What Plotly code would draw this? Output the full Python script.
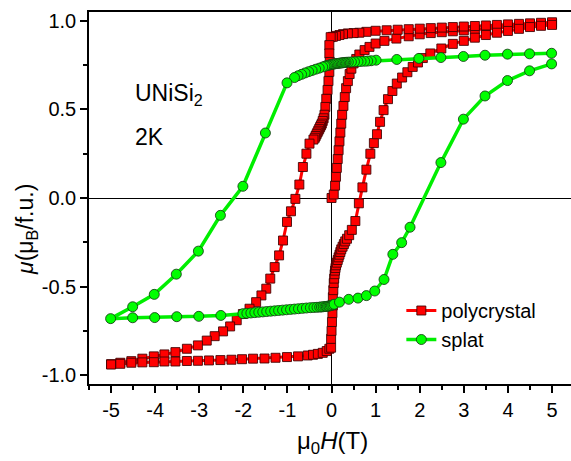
import plotly.graph_objects as go

# ---------------- data ----------------
# polycrystal: virgin curve 0 -> 5 T
poly_virgin_x = [0.0, 0.05, 0.08, 0.10, 0.12, 0.14, 0.16, 0.18, 0.20, 0.22,
                 0.24, 0.27, 0.30, 0.33, 0.37, 0.41, 0.45, 0.50, 0.56, 0.63,
                 0.75, 0.86, 1.00, 1.20, 1.47, 1.75, 2.00, 2.25, 2.50, 2.75,
                 3.00, 3.25, 3.50, 3.75, 4.00, 4.25, 4.50, 4.75, 5.00]
poly_virgin_y = [0.00, 0.02, 0.07, 0.12, 0.17, 0.22, 0.27, 0.32, 0.37, 0.42,
                 0.47, 0.52, 0.57, 0.62, 0.66, 0.70, 0.73, 0.76, 0.785, 0.81,
                 0.835, 0.853, 0.872, 0.887, 0.90, 0.913, 0.924, 0.931, 0.936, 0.941,
                 0.946, 0.951, 0.956, 0.961, 0.966, 0.970, 0.975, 0.979, 0.983]
# polycrystal: descending branch 5 -> -5 T
poly_down_x = [5.00, 4.75, 4.50, 4.25, 4.00, 3.75, 3.50, 3.25, 3.00, 2.75,
               2.50, 2.25, 2.00, 1.75, 1.50, 1.25, 1.00, 0.79, 0.63, 0.50,
               0.37, 0.26, 0.18, 0.10, 0.03, -0.02, -0.05, -0.05, -0.04, -0.05,
               -0.07, -0.09, -0.12, -0.14, -0.16, -0.18, -0.20, -0.22, -0.24, -0.26,
               -0.28, -0.30, -0.32, -0.34, -0.36, -0.38, -0.41, -0.50, -0.57, -0.65,
               -0.73, -0.82, -0.92, -1.01, -1.10, -1.19, -1.29, -1.39, -1.48, -1.59,
               -1.71, -1.86, -2.01, -2.15, -2.30, -2.46, -2.65, -2.83, -3.03, -3.28,
               -3.54, -3.79, -4.03, -4.29, -4.54, -4.79, -5.00]
poly_down_y = [0.992, 0.989, 0.986, 0.983, 0.980, 0.977, 0.974, 0.971, 0.968, 0.965,
               0.962, 0.959, 0.956, 0.953, 0.950, 0.947, 0.944, 0.938, 0.933, 0.931,
               0.929, 0.925, 0.920, 0.915, 0.910, 0.908, 0.863, 0.816, 0.768, 0.712,
               0.66, 0.61, 0.56, 0.514, 0.47, 0.45, 0.435, 0.42, 0.41, 0.40,
               0.39, 0.38, 0.37, 0.36, 0.35, 0.34, 0.33, 0.307, 0.25, 0.175,
               0.076, -0.005, -0.075, -0.135, -0.24, -0.324, -0.39, -0.455, -0.512, -0.55,
               -0.588, -0.625, -0.655, -0.69, -0.725, -0.753, -0.78, -0.805, -0.832, -0.851,
               -0.87, -0.883, -0.894, -0.907, -0.921, -0.93, -0.938]
# polycrystal: ascending branch -5 -> 5 T
poly_up_x = [-5.00, -4.79, -4.54, -4.29, -4.03, -3.79, -3.54, -3.28, -3.03, -2.78,
             -2.52, -2.27, -2.03, -1.78, -1.52, -1.27, -1.01, -0.76, -0.54, -0.42,
             -0.31, -0.20, -0.11, -0.05, -0.01, -0.01, 0.00, 0.01, 0.02, 0.03,
             0.03, 0.04, 0.05, 0.06, 0.07, 0.08, 0.09, 0.10, 0.12, 0.14,
             0.16, 0.18, 0.20, 0.22, 0.25, 0.28, 0.31, 0.35, 0.40, 0.46,
             0.54, 0.62, 0.70, 0.79, 0.88, 0.96, 1.03, 1.10, 1.18, 1.28,
             1.38, 1.48, 1.60, 1.72, 1.84, 1.96, 2.07, 2.24, 2.49, 2.75,
             3.00, 3.25, 3.50, 3.75, 4.00, 4.25, 4.50, 4.75, 5.00]
poly_up_y = [-0.940, -0.936, -0.930, -0.928, -0.927, -0.923, -0.923, -0.920, -0.919, -0.917,
             -0.915, -0.913, -0.910, -0.907, -0.906, -0.902, -0.898, -0.894, -0.889, -0.885,
             -0.880, -0.874, -0.864, -0.851, -0.845, -0.795, -0.75, -0.70, -0.65, -0.606,
             -0.56, -0.52, -0.48, -0.455, -0.43, -0.41, -0.395, -0.38, -0.365, -0.35,
             -0.335, -0.32, -0.305, -0.29, -0.275, -0.26, -0.245, -0.23, -0.21, -0.18,
             -0.13, -0.03, 0.06, 0.16, 0.25, 0.31, 0.36, 0.43, 0.496, 0.558,
             0.604, 0.646, 0.68, 0.71, 0.74, 0.765, 0.79, 0.816, 0.844, 0.87,
             0.887, 0.905, 0.92, 0.933, 0.943, 0.955, 0.965, 0.972, 0.977]

# splat: descending branch 5 -> -5 T
splat_down_x = [4.99, 4.49, 3.99, 3.48, 2.99, 2.48, 1.98, 1.48, 1.01, 0.90,
                0.82, 0.75, 0.67, 0.60, 0.52, 0.45, 0.38, 0.33, 0.30, 0.27,
                0.24, 0.21, 0.18, 0.15, 0.12, 0.09, 0.06, 0.03, 0.00, -0.03,
                -0.06, -0.09, -0.12, -0.15, -0.20, -0.28, -0.36, -0.44, -0.52, -0.60,
                -0.68, -0.76, -0.84, -1.01, -1.50, -2.01, -2.52, -3.02, -3.52, -4.02,
                -4.51, -5.01]
splat_down_y = [0.817, 0.814, 0.812, 0.806, 0.799, 0.793, 0.788, 0.782, 0.778, 0.775,
                0.773, 0.772, 0.771, 0.770, 0.769, 0.768, 0.767, 0.766, 0.765, 0.764,
                0.763, 0.762, 0.761, 0.760, 0.759, 0.758, 0.757, 0.756, 0.754, 0.752,
                0.750, 0.748, 0.746, 0.744, 0.740, 0.733, 0.727, 0.720, 0.713, 0.706,
                0.698, 0.690, 0.680, 0.650, 0.367, 0.066, -0.098, -0.300, -0.430, -0.544,
                -0.614, -0.681]
# splat: ascending branch -5 -> 5 T
splat_up_x = [-4.51, -4.01, -3.51, -3.01, -2.51, -2.01, -1.92, -1.83, -1.74, -1.65,
              -1.56, -1.47, -1.38, -1.29, -1.20, -1.11, -1.02, -0.93, -0.84, -0.75,
              -0.66, -0.57, -0.48, -0.40, -0.33, -0.27, -0.23, -0.19, -0.15, -0.12,
              -0.09, -0.06, -0.03, 0.00, 0.03, 0.06, 0.18, 0.39, 0.60, 0.79,
              0.98, 1.19, 1.39, 1.59, 1.78, 2.48, 2.99, 3.48, 3.99, 4.49,
              4.99]
splat_up_y = [-0.676, -0.675, -0.670, -0.668, -0.663, -0.653, -0.651, -0.649, -0.647, -0.645,
              -0.643, -0.641, -0.639, -0.637, -0.635, -0.633, -0.631, -0.629, -0.627, -0.625,
              -0.623, -0.621, -0.619, -0.618, -0.617, -0.616, -0.615, -0.614, -0.613, -0.612,
              -0.611, -0.610, -0.608, -0.606, -0.603, -0.600, -0.588, -0.572, -0.565, -0.551,
              -0.525, -0.460, -0.318, -0.252, -0.165, 0.200, 0.445, 0.576, 0.663, 0.718,
              0.757]

x_tick_vals = [-5, -4, -3, -2, -1, 0, 1, 2, 3, 4, 5]
x_tick_text = ["-5", "-4", "-3", "-2", "-1", "0", "1", "2", "3", "4", "5"]
y_tick_vals = [-1.0, -0.5, 0.0, 0.5, 1.0]
y_tick_text = ["-1.0", "-0.5", "0.0", "0.5", "1.0"]

# ---------------- figure ----------------
FONT = "Liberation Sans, Arial, sans-serif"

fig = go.Figure()
fig.add_trace(go.Scatter(
    x=poly_virgin_x + poly_down_x + poly_up_x,
    y=poly_virgin_y + poly_down_y + poly_up_y,
    mode="lines+markers", name="polycrystal",
    line=dict(color="#ff0000", width=3),
    marker=dict(symbol="square", size=9, color="#ff0000",
                line=dict(color="rgba(60,0,0,0.85)", width=1)),
))
fig.add_trace(go.Scatter(
    x=splat_down_x + splat_up_x,
    y=splat_down_y + splat_up_y,
    mode="lines+markers", name="splat",
    line=dict(color="#00ee00", width=3.5),
    marker=dict(symbol="circle", size=10, color="#00ff00",
                line=dict(color="rgba(20,60,20,0.85)", width=1)),
))

axis_common = dict(
    showline=True, linecolor="black", linewidth=1.5,
    ticks="outside", ticklen=7, tickwidth=1.5, tickcolor="black",
    showgrid=False, zeroline=True, zerolinecolor="black", zerolinewidth=1,
    tickfont=dict(family=FONT, size=20, color="black"),
)

fig.update_layout(
    width=571, height=461,
    margin=dict(l=89, r=0, t=12, b=77),
    paper_bgcolor="white", plot_bgcolor="white",
    font=dict(family=FONT, color="black"),
    showlegend=True,
    legend=dict(x=0.648, y=0.25, xanchor="left", yanchor="top",
                bgcolor="rgba(0,0,0,0)", font=dict(family=FONT, size=20),
                tracegroupgap=0),
    xaxis=dict(range=[-5.5, 5.43], tickmode="array", tickvals=x_tick_vals,
               ticktext=x_tick_text, mirror=True,
               minor=dict(ticks="outside", ticklen=4, tickwidth=1.5,
                          tickcolor="black", dtick=0.5, tick0=0),
               **axis_common),
    yaxis=dict(range=[-1.05, 1.05], tickmode="array", tickvals=y_tick_vals,
               ticktext=y_tick_text, mirror=False,
               minor=dict(ticks="outside", ticklen=4, tickwidth=1.5,
                          tickcolor="black", dtick=0.25, tick0=0),
               **axis_common),
)

fig.add_annotation(text="UNiSi<sub>2</sub>", x=-4.5, y=0.585, xref="x", yref="y",
                   xanchor="left", yanchor="middle", showarrow=False,
                   font=dict(family=FONT, size=23, color="black"))
fig.add_annotation(text="2K", x=-4.5, y=0.345, xref="x", yref="y",
                   xanchor="left", yanchor="middle", showarrow=False,
                   font=dict(family=FONT, size=23, color="black"))
fig.add_annotation(text="μ<sub>0</sub><i>H</i>(T)", x=0.506, y=-0.158,
                   xref="paper", yref="paper", xanchor="center", yanchor="middle",
                   showarrow=False, font=dict(family=FONT, size=24, color="black"))
fig.add_annotation(text="<i>μ</i>(μ<sub>B</sub>/f.u.)", x=-0.13, y=0.415,
                   xref="paper", yref="paper", xanchor="center", yanchor="middle",
                   textangle=-90, showarrow=False,
                   font=dict(family=FONT, size=23, color="black"))

fig.write_html("out.html", config={"displayModeBar": False})
